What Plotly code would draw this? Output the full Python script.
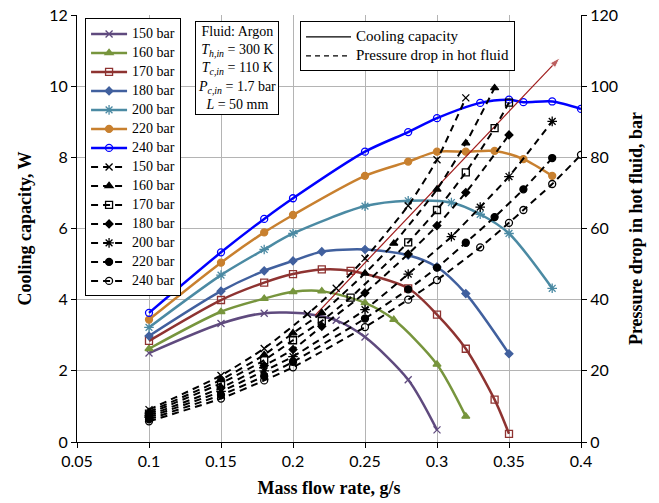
import plotly.graph_objects as go

# Mass flow rate (g/s) and cooling capacity (W) for each hot-fluid pressure
cc_150_x = [0.10, 0.15, 0.18, 0.21, 0.23, 0.25, 0.28, 0.30]
cc_150 = [2.50, 3.33, 3.62, 3.60, 3.42, 2.95, 1.75, 0.34]
cc_160_x = [0.10, 0.15, 0.18, 0.20, 0.22, 0.25, 0.27, 0.30, 0.32]
cc_160 = [2.62, 3.66, 4.03, 4.22, 4.24, 3.91, 3.44, 2.18, 0.72]
cc_170_x = [0.10, 0.15, 0.18, 0.20, 0.22, 0.24, 0.28, 0.30, 0.32, 0.34, 0.35]
cc_170 = [2.84, 3.99, 4.48, 4.72, 4.85, 4.81, 4.32, 3.58, 2.62, 1.19, 0.23]
cc_180_x = [0.10, 0.15, 0.18, 0.20, 0.22, 0.25, 0.28, 0.30, 0.32, 0.35]
cc_180 = [2.98, 4.24, 4.81, 5.09, 5.35, 5.41, 5.25, 4.92, 4.17, 2.48]
cc_200_x = [0.10, 0.15, 0.18, 0.20, 0.25, 0.28, 0.31, 0.33, 0.35, 0.38]
cc_200 = [3.22, 4.69, 5.41, 5.86, 6.63, 6.78, 6.73, 6.40, 5.86, 4.32]
cc_220_x = [0.10, 0.15, 0.18, 0.20, 0.25, 0.28, 0.30, 0.32, 0.34, 0.36, 0.38]
cc_220 = [3.44, 5.04, 5.89, 6.38, 7.48, 7.88, 8.16, 8.16, 8.18, 7.95, 7.48]
cc_240_x = [0.10, 0.15, 0.18, 0.20, 0.25, 0.28, 0.30, 0.33, 0.35, 0.36, 0.38, 0.40]
cc_240 = [3.63, 5.33, 6.27, 6.85, 8.16, 8.71, 9.10, 9.53, 9.62, 9.55, 9.57, 9.36]

# Pressure drop in the hot fluid (bar)
pd_150_x = [0.10, 0.15, 0.18, 0.21, 0.23, 0.25, 0.28, 0.30, 0.32]
pd_150 = [9.1, 18.7, 26.3, 35.9, 43.2, 51.6, 66.4, 79.3, 96.7]
pd_160_x = [0.10, 0.15, 0.18, 0.20, 0.22, 0.25, 0.27, 0.30, 0.32, 0.34]
pd_160 = [8.5, 17.5, 24.5, 30.6, 36.3, 47.4, 55.8, 71.0, 84.0, 99.5]
pd_170_x = cc_170_x
pd_170 = [8.0, 16.5, 23.0, 28.6, 34.0, 40.6, 56.1, 65.2, 75.8, 88.2, 95.4]
pd_180_x = cc_180_x
pd_180 = [7.5, 15.2, 21.5, 26.0, 32.5, 41.9, 52.8, 60.8, 70.1, 86.3]
pd_200_x = cc_200_x
pd_200 = [7.0, 14.2, 20.0, 24.0, 37.2, 47.2, 57.7, 66.0, 74.6, 90.1]
pd_220_x = cc_220_x
pd_220 = [6.4, 13.2, 18.5, 22.5, 34.7, 42.9, 49.0, 56.0, 63.2, 71.0, 79.8]
pd_240_x = cc_240_x
pd_240 = [5.8, 12.2, 17.3, 21.0, 32.3, 40.0, 45.5, 54.7, 61.6, 65.2, 72.5, 80.7]

series_names = ["150 bar", "160 bar", "170 bar", "180 bar", "200 bar", "220 bar", "240 bar"]
cc_data = [(cc_150_x, cc_150), (cc_160_x, cc_160), (cc_170_x, cc_170), (cc_180_x, cc_180),
           (cc_200_x, cc_200), (cc_220_x, cc_220), (cc_240_x, cc_240)]
pd_data = [(pd_150_x, pd_150), (pd_160_x, pd_160), (pd_170_x, pd_170), (pd_180_x, pd_180),
           (pd_200_x, pd_200), (pd_220_x, pd_220), (pd_240_x, pd_240)]

colors = ["#5f4a7e", "#77953d", "#8e3331", "#41609e", "#4b8aa3", "#c8802f", "#0000ff"]
symbols = ["x-thin", "triangle-up", "square-open", "diamond", "asterisk-open", "circle", "circle-open"]
sizes = [7, 7, 7, 6, 8, 7, 7]

# Trend arrow towards higher pressure (tail, head) in data units
arrow_x = [0.2153, 0.3854]
arrow_y = [3.56, 10.8]

x_ticks = [0.05, 0.1, 0.15, 0.2, 0.25, 0.3, 0.35, 0.4]
x_tick_text = ["0.05", "0.1", "0.15", "0.2", "0.25", "0.3", "0.35", "0.4"]
y_ticks = [0, 2, 4, 6, 8, 10, 12]
y2_ticks = [0, 20, 40, 60, 80, 100, 120]

SERIF = "Liberation Serif, Times New Roman, serif"
SANS = "Lato, Carlito, Liberation Sans, sans-serif"


def label(text, size):
    # legend rows stay compact while the label itself is drawn larger
    return f'<span style="font-size:{size}px">{text}</span>'


def marker_for(i, color):
    return dict(symbol=symbols[i], size=sizes[i], color=color,
                line=dict(width=1.3, color=color))


fig = go.Figure()

for i, (name, (xs, ys)) in enumerate(zip(series_names, cc_data)):
    fig.add_trace(go.Scatter(
        x=xs, y=ys, name=label(name, 14), mode="lines+markers",
        line=dict(color=colors[i], width=2.5, shape="spline", smoothing=0.8),
        marker=marker_for(i, colors[i]), legend="legend"))

for i, (name, (xs, ys)) in enumerate(zip(series_names, pd_data)):
    fig.add_trace(go.Scatter(
        x=xs, y=ys, name=label(name, 14), mode="lines+markers", yaxis="y2",
        line=dict(color="black", width=2, dash="7px,5px", shape="spline", smoothing=0.5),
        marker=marker_for(i, "black"), legend="legend"))

# Trend arrow: a thin line with an arrowhead marker at its far end
fig.add_trace(go.Scatter(
    x=arrow_x, y=arrow_y, mode="lines+markers", showlegend=False, hoverinfo="skip",
    line=dict(color="#a01c1c", width=1.2),
    marker=dict(symbol="arrow", size=[0, 11], angleref="previous", color="#a01c1c")))

# Line-style key
fig.add_trace(go.Scatter(x=[None], y=[None], mode="lines", name=label("Cooling capacity", 15),
                         line=dict(color="black", width=1.3), legend="legend2"))
fig.add_trace(go.Scatter(x=[None], y=[None], mode="lines",
                         name=label("Pressure drop in hot fluid", 15),
                         line=dict(color="black", width=1.3, dash="5px,4px"), legend="legend2"))

axis_common = dict(showline=True, linecolor="black", linewidth=1, ticks="outside",
                   ticklen=5, tickcolor="black", tickfont=dict(family=SANS, size=16, color="black"),
                   zeroline=False, automargin=False)

fig.update_layout(
    width=659, height=503,
    margin=dict(l=77, r=78, t=15, b=61, autoexpand=False),
    plot_bgcolor="white", paper_bgcolor="white",
    xaxis=dict(range=[0.05, 0.4], tickvals=x_ticks, ticktext=x_tick_text,
               showgrid=True, gridcolor="#b4b4b4", gridwidth=1,
               title=dict(text="<b>Mass flow rate, g/s</b>",
                          font=dict(family=SERIF, size=18, color="black"), standoff=12),
               **axis_common),
    yaxis=dict(range=[0, 12], tickvals=y_ticks, showgrid=True, gridcolor="#b4b4b4", gridwidth=1,
               title=dict(text="<b>Cooling capacity, W</b>",
                          font=dict(family=SERIF, size=18, color="black"), standoff=12),
               **axis_common),
    yaxis2=dict(range=[0, 120], tickvals=y2_ticks, overlaying="y", side="right", showgrid=False,
                title=dict(text="<b>Pressure drop in hot fluid, bar</b>",
                           font=dict(family=SERIF, size=18, color="black"), standoff=12),
                **axis_common),
    legend=dict(x=0.016, y=0.992, xanchor="left", yanchor="top", bgcolor="white",
                bordercolor="black", borderwidth=1, tracegroupgap=0, itemwidth=36,
                font=dict(family=SERIF, size=11, color="black")),
    legend2=dict(x=0.4425, y=0.985, xanchor="left", yanchor="top", bgcolor="white",
                 bordercolor="black", borderwidth=1, itemwidth=45,
                 font=dict(family=SERIF, size=11, color="black")),
    showlegend=True,
)

fig.add_annotation(
    x=0.3165, y=0.985, xref="paper", yref="paper", xanchor="center", yanchor="top",
    showarrow=False, align="center", bgcolor="white", bordercolor="black", borderwidth=1,
    borderpad=2, font=dict(family=SERIF, size=14, color="black"),
    text=("Fluid: Argon<br>"
          "<i>T</i><sub><i>h,in</i></sub> = 300 K<br>"
          "<i>T</i><sub><i>c,in</i></sub> = 110 K<br>"
          "<i>P</i><sub><i>c,in</i></sub> = 1.7 bar<br>"
          "<i>L</i> = 50 mm"))

fig.write_html("out.html")
